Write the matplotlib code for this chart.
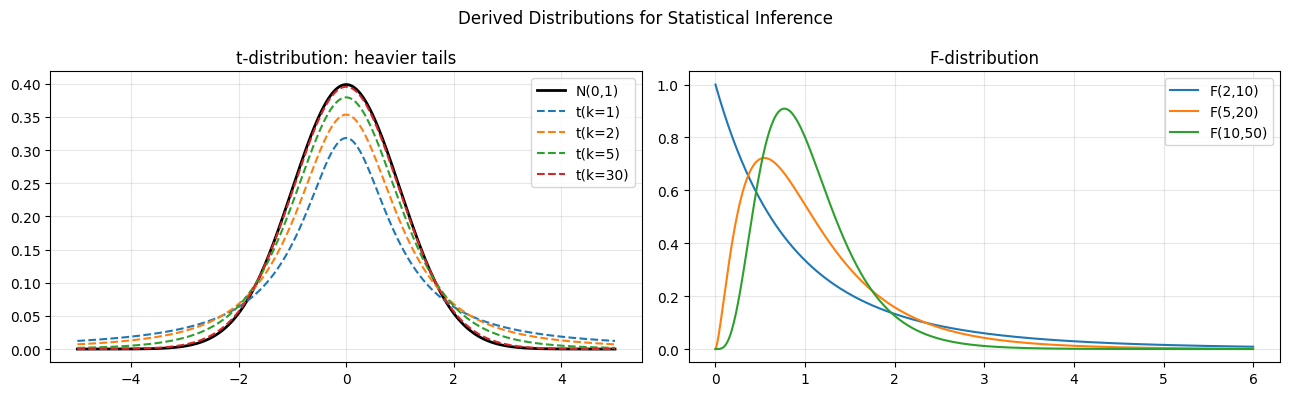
import numpy as np
import matplotlib.pyplot as plt
from math import lgamma, pi

# parameters
t_dofs = [1, 2, 5, 30]
t_colors = ['C0', 'C1', 'C2', 'C3']
f_params = [(2, 10), (5, 20), (10, 50)]
f_colors = ['C0', 'C1', 'C2']
t_range = (-5, 5)
f_range = (0, 6)


def norm_pdf(x):
    return np.exp(-x**2 / 2) / np.sqrt(2 * pi)


def t_pdf(x, k):
    c = np.exp(lgamma((k + 1) / 2) - lgamma(k / 2)) / np.sqrt(k * pi)
    return c * (1 + x**2 / k) ** (-(k + 1) / 2)


def f_pdf(x, d1, d2):
    lb = lgamma(d1 / 2) + lgamma(d2 / 2) - lgamma((d1 + d2) / 2)
    c = np.exp((d1 / 2) * np.log(d1 / d2) - lb)
    return c * x ** (d1 / 2 - 1) * (1 + d1 * x / d2) ** (-(d1 + d2) / 2)


fig, (ax1, ax2) = plt.subplots(1, 2, figsize=(13, 4), dpi=100)

x = np.linspace(t_range[0], t_range[1], 500)
ax1.plot(x, norm_pdf(x), 'k-', lw=2, label='N(0,1)')
for k, c in zip(t_dofs, t_colors):
    ax1.plot(x, t_pdf(x, k), '--', color=c, lw=1.5, label=f't(k={k})')
ax1.set_title('t-distribution: heavier tails')
ax1.legend()
ax1.grid(alpha=0.3)

xf = np.linspace(f_range[0], f_range[1], 500)
for (d1, d2), c in zip(f_params, f_colors):
    ax2.plot(xf, f_pdf(xf, d1, d2), color=c, lw=1.5, label=f'F({d1},{d2})')
ax2.set_title('F-distribution')
ax2.legend()
ax2.grid(alpha=0.3)

fig.suptitle('Derived Distributions for Statistical Inference')
fig.tight_layout()
fig.savefig('out.png', bbox_inches='tight')
